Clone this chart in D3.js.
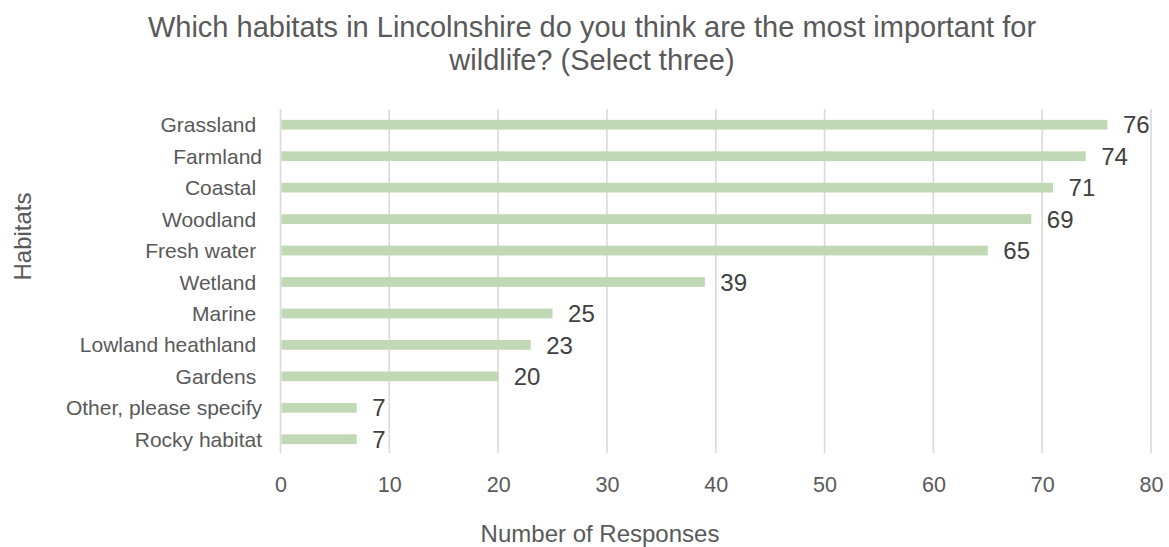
<!DOCTYPE html>
<html><head><meta charset="utf-8">
<script src="https://cdn.jsdelivr.net/npm/d3@7"></script>
<style>body{margin:0;background:#fff}svg{display:block}text{font-family:Arial,"Liberation Sans",sans-serif;white-space:pre}</style>
</head><body>
<svg id="c" width="1169" height="547"></svg>
<script>
const categories = ["Grassland ","Farmland","Coastal ","Woodland ","Fresh water ","Wetland ","Marine ","Lowland heathland ","Gardens ","Other, please specify","Rocky habitat"];
const values = [76,74,71,69,65,39,25,23,20,7,7];
const xTicks = [0,10,20,30,40,50,60,70,80];
const titleLines = ["Which habitats in Lincolnshire do you think are the most important for","wildlife? (Select three)"];
const xTitle = "Number of Responses";
const yTitle = "Habitats";

(function(){
const svg = d3.select("#c");
const pL = 280.5, pR = 1151, pT = 109, pB = 455, gridB = 453;
const x = d3.scaleLinear().domain([0,80]).range([pL,pR]);
const y = d3.scaleBand().domain(categories).range([pT,pB]).paddingInner(0.69).paddingOuter(0.345);

svg.append("g").selectAll("line").data(xTicks).join("line")
  .attr("x1",d=>x(d)).attr("x2",d=>x(d)).attr("y1",pT).attr("y2",gridB)
  .attr("stroke","#d9d9d9").attr("stroke-width",1.6);

svg.append("g").selectAll("rect").data(values).join("rect")
  .attr("x",x(0)+1).attr("y",(d,i)=>y(categories[i]))
  .attr("width",d=>x(d)-x(0)-1).attr("height",y.bandwidth())
  .attr("fill","#c0d8b4");

svg.append("g").selectAll("text").data(values).join("text")
  .attr("x",d=>x(d)+15.5).attr("y",(d,i)=>y(categories[i])+y.bandwidth()/2)
  .attr("dy","0.36em").attr("font-size",24).attr("fill","#404040").text(d=>d);

const yAxis = d3.axisLeft(y).tickSize(0).tickPadding(18.5);
const gy = svg.append("g").attr("transform",`translate(${pL},0)`).call(yAxis);
gy.select(".domain").remove();
gy.selectAll("text").attr("font-size",21).attr("fill","#595959").attr("dy","0.36em")
  .style("font-family","Arial,'Liberation Sans',sans-serif").style("white-space","pre");

const xAxis = d3.axisBottom(x).tickValues(xTicks).tickSize(0).tickPadding(0);
const gx = svg.append("g").call(xAxis);
gx.select(".domain").remove();
gx.selectAll(".tick text").attr("y",492).attr("dy",0).attr("font-size",21.5).attr("fill","#595959")
  .style("font-family","Arial,'Liberation Sans',sans-serif");

svg.append("g").selectAll("text").data(titleLines).join("text")
  .attr("x",592).attr("y",(d,i)=>37+i*33).attr("text-anchor","middle")
  .attr("font-size",29).attr("fill","#595959").text(d=>d);

svg.append("text").attr("x",600).attr("y",542).attr("text-anchor","middle")
  .attr("font-size",24).attr("fill","#595959").text(xTitle);

svg.append("text").attr("transform","translate(31,236.5) rotate(-90)").attr("text-anchor","middle")
  .attr("font-size",24).attr("fill","#595959").text(yTitle);
})();
</script>
</body></html>
